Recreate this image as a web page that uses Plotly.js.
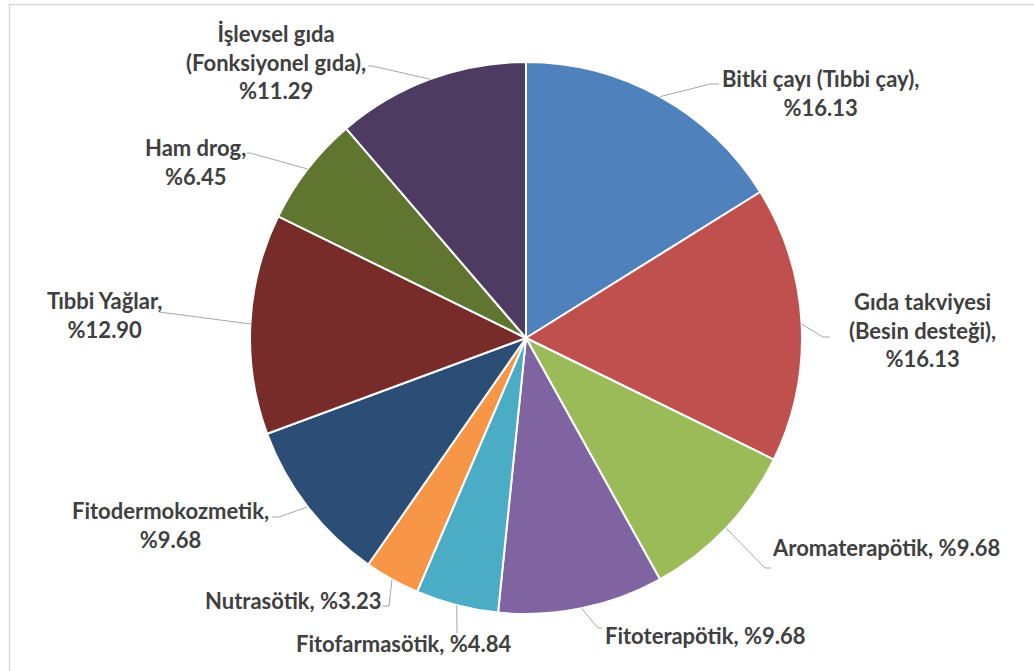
<!DOCTYPE html>
<html>
<head>
<meta charset="utf-8">
<script src="https://cdn.plot.ly/plotly-3.0.1.min.js"></script>
<style>
html,body{margin:0;padding:0;background:#fff;}
#chart{width:1034px;height:671px;}
</style>
</head>
<body>
<div id="chart"></div>
<script>
// ---- data ----
var categories = [
  "Bitki çayı (Tıbbi çay)",
  "Gıda takviyesi (Besin desteği)",
  "Aromaterapötik",
  "Fitoterapötik",
  "Fitofarmasötik",
  "Nutrasötik",
  "Fitodermokozmetik",
  "Tıbbi Yağlar",
  "Ham drog",
  "İşlevsel gıda (Fonksiyonel gıda)"
];
var values = [16.13, 16.13, 9.68, 9.68, 4.84, 3.23, 9.68, 12.90, 6.45, 11.29];
var labelTexts = [
  "Bitki çayı (Tıbbi çay),<br>%16.13",
  "Gıda takviyesi<br>(Besin desteği),<br>%16.13",
  "Aromaterapötik, %9.68",
  "Fitoterapötik, %9.68",
  "Fitofarmasötik, %4.84",
  "Nutrasötik, %3.23",
  "Fitodermokozmetik,<br>%9.68",
  "Tıbbi Yağlar,<br>%12.90",
  "Ham drog,<br>%6.45",
  "İşlevsel gıda<br>(Fonksiyonel gıda),<br>%11.29"
];

// ---- layout / style ----
var W = 1034, H = 671;
var CX = 526, CY = 338, R = 276;
var colors = ["#4F81BD","#C0504D","#9BBB59","#8064A2","#4BACC6","#F79646",
              "#2C4D75","#772C2A","#5F7530","#4D3B62"];
// label text centre (pixels) and leader-line bend/end points (pixels)
var labelPos = [
  [820, 93], [922, 330], [886, 547], [705, 635], [404, 643],
  [293, 600], [170, 525], [104, 315], [195, 162], [276, 62]
];
var leaderPts = [
  [[710,84],[719,84]],
  [[823,337],[830,337]],
  [[765,568],[771,568]],
  [[598,628],[602,628]],
  [[457,633]],
  [[389,606],[382,606]],
  [[279,517],[272,517]],
  [[159,312]],
  [[250,153],[247,153]],
  [[372,66],[368,66]]
];

function px(x){ return x / W; }
function py(y){ return 1 - y / H; }

var total = values.reduce(function(a,b){return a+b;},0);
var annotations = [], shapes = [];
var cum = 0;
for (var i = 0; i < values.length; i++) {
  var mid = (cum + values[i] / 2) / total * 2 * Math.PI;
  cum += values[i];
  var sx = CX + R * Math.sin(mid), sy = CY - R * Math.cos(mid);
  var path = "M " + px(sx) + "," + py(sy);
  leaderPts[i].forEach(function(p){ path += " L " + px(p[0]) + "," + py(p[1]); });
  shapes.push({type:"path", xref:"paper", yref:"paper", path:path,
               line:{color:"#A6A6A6", width:1}, layer:"above"});
  annotations.push({xref:"paper", yref:"paper", x:px(labelPos[i][0]), y:py(labelPos[i][1]),
                    xanchor:"center", yanchor:"middle", align:"center", showarrow:false,
                    text:labelTexts[i],
                    font:{family:"Lato, 'Open Sans', sans-serif", size:22, color:"#404040", weight:"bold"}});
}
// chart frame
shapes.push({type:"rect", xref:"paper", yref:"paper", x0:px(9.5), x1:px(1040), y0:py(680), y1:py(4.5),
             line:{color:"#D9D9D9", width:1.5}, layer:"below"});

var trace = {
  type: "pie",
  labels: categories,
  values: values,
  sort: false,
  direction: "clockwise",
  rotation: 0,
  textinfo: "none",
  hoverinfo: "skip",
  marker: {colors: colors, line: {color: "#FFFFFF", width: 2}},
  domain: {x: [px(CX - R), px(CX + R)], y: [py(CY + R), py(CY - R)]},
  showlegend: false
};

var layout = {
  width: W, height: H,
  margin: {l:0, r:0, t:0, b:0},
  paper_bgcolor: "#FFFFFF",
  showlegend: false,
  annotations: annotations,
  shapes: shapes
};

Plotly.newPlot("chart", [trace], layout, {staticPlot: true, displayModeBar: false});
</script>
</body>
</html>
